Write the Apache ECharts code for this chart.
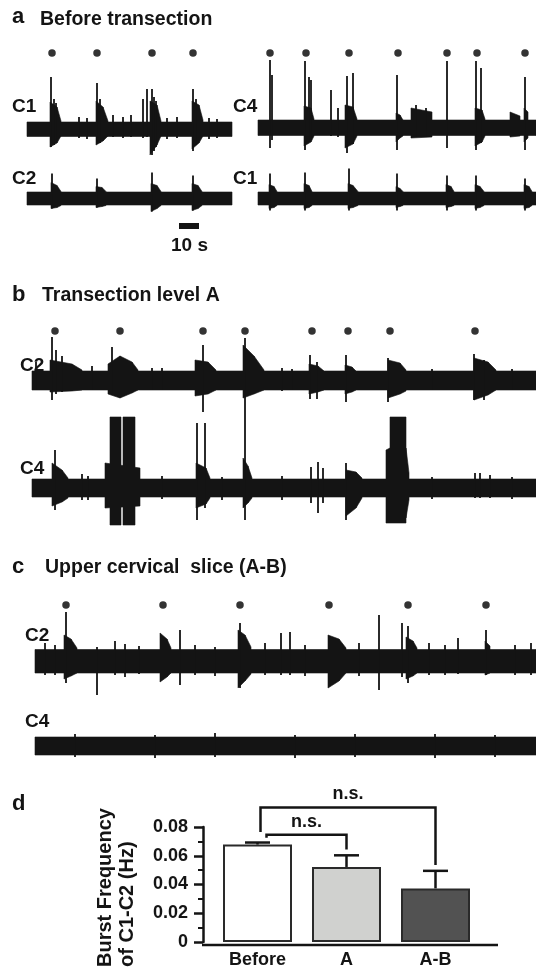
<!DOCTYPE html>
<html><head><meta charset="utf-8">
<script src="https://cdn.jsdelivr.net/npm/echarts@6/dist/echarts.min.js"></script>
<style>html,body{margin:0;padding:0;background:#fff}#c{width:536px;height:969px}</style>
</head><body><div id="c"></div>
<script>
// ---------- DATA (time in s, amplitude in trace units) ----------
// shapes: [t0, t1, up0, up1, down0, down1]; spikes: [t, up, down]
const aC1Band = [[0, 102.5, 7, 7, 7.5, 7.5]];
const aC1Bursts = [[11.5,15,27,22,18,14],[15,17,22,8,14,7],[34.5,38,28,22,16,12],[38,40.5,22,8,12,7],[61.5,65,28,24,26,16],[65,67,24,8,16,7],[82.5,86,28,24,20,14],[86,88,24,9,14,7]];
const aC1Spikes = [[12,52,18],[13.5,30,16],[14.5,26,14],[35,46,14],[36.5,30,14],[60,40,8],[62.5,40,26],[63.5,32,22],[64.5,28,18],[83,40,22],[84.5,30,16],[26,12,9],[30,11,10],[43,14,8],[48,12,9],[52,14,8],[58,30,9],[70,11,10],[75,12,9],[91,11,10],[95,10,9]];
const aC2Band = [[0, 102.5, 6.5, 6.5, 6.5, 6.5]];
const aC2Bursts = [[12,15,16,13,10,9],[15,17,13,7,9,7],[34.5,37.5,12,11,9,8],[37.5,39.5,11,7,8,7],[62,65,15,13,13,10],[65,67,13,7,10,7],[82.5,85.5,15,13,12,10],[85.5,87.5,13,7,10,7]];
const aC2Spikes = [[12.5,25,10],[35,20,9],[62.5,26,13],[83,23,12]];
const aC4Band = [[0, 139, 8, 8, 7.5, 7.5]];
const aC4Bursts = [[23,26.5,22,20,18,14],[26.5,28,20,9,14,8],[43.5,47.5,23,21,20,16],[47.5,49.5,21,9,16,8],[69,71,15,13,14,10],[71,72.5,13,8,10,8],[76.5,87,20,16,10,9],[108.5,112,20,18,18,14],[112,113.5,18,9,14,8],[126,131,16,12,9,8],[133,135,20,16,14,10]];
const aC4Spikes = [[6,68,20],[7,53,12],[23.5,67,22],[25.5,51,14],[26.5,48,10],[36.5,38,8],[40,20,9],[44.5,52,25],[47.5,55,16],[69.5,53,22],[79,23,9],[84,20,9],[94.5,67,20],[109,67,22],[111.5,60,15],[133.5,51,22]];
const aC1rBand = [[0, 139, 6.5, 6.5, 6.5, 6.5]];
const aC1rBursts = [[5.5,8,14,12,10,9],[8,9.5,12,7,9,7],[23,25.5,15,13,10,9],[25.5,27,13,7,9,7],[45,47.5,15,13,10,9],[47.5,50,13,7,9,7],[69,71,12,10,9,8],[71,72.5,10,7,8,7],[94,96.5,14,12,9,8],[96.5,98,12,7,8,7],[108.5,111,14,12,10,9],[111,113,12,7,9,7],[133,135.5,14,12,10,9],[135.5,137,12,7,9,7]];
const aC1rSpikes = [[6,25,12],[23.5,26,12],[45.5,30,12],[69.5,25,12],[94.5,23,12],[109,23,12],[133.5,20,12]];
const aDotsLeft = [12.5, 35, 62.5, 83];
const aDotsRight = [6, 24, 45.5, 70, 94.5, 109.5, 133.5];
const scaleBar = [[76, 86]]; // 10 s

const bC2Band = [[0, 252, 9, 9, 10, 10]];
const bC2Bursts = [[9,20,20,16,12,11],[20,25,16,10,11,10],[38,44,16,24,14,18],[44,50,24,18,18,13],[50,53,18,10,13,10],[81.5,88,20,18,16,14],[88,92,18,10,14,10],[105.5,111,35,24,18,14],[111,116,24,10,14,10],[138.5,143,16,14,14,12],[143,146,14,9,12,10],[156.5,160,15,13,14,12],[160,162,13,9,12,10],[178,184,20,17,18,14],[184,187,17,10,14,11],[221,228,22,18,20,15],[228,232,18,10,15,10]];
const bC2Spikes = [[10,43,20],[12,30,14],[15,24,12],[40,33,14],[85.5,35,32],[106.5,42,37],[139,25,19],[142.5,18,19],[157,25,22],[178,22,22],[221,26,20],[226,20,20],[2,18,10],[30,14,10],[60,12,10],[65,12,10],[125,12,11],[130,11,10],[200,11,10],[240,11,10]];
const bC4Band = [[0, 252, 9, 9, 9, 9]];
const bC4Bursts = [[10,15,25,18,18,14],[15,18,18,10,14,10],[36.5,54,25,20,20,18],[39,44.5,71,71,37,37],[45.5,51.5,71,71,37,37],[82,87,25,20,20,16],[87,89,20,10,16,10],[105.5,108,30,22,20,15],[108,110,22,10,15,10],[157,162,18,16,28,20],[162,165,16,10,20,10],[177,179,38,40,35,35],[179,187,71,71,35,35],[187,188.5,40,15,30,12]];
const bC4Spikes = [[11.5,38,22],[82.5,65,32],[86.5,65,20],[106.5,71,32],[139.5,21,15],[143,26,25],[145.5,20,15],[157,25,32],[221.5,15,10],[224,15,10],[229,13,10],[25,14,12],[28,12,12],[65,12,11],[95,11,12],[125,12,12],[200,11,11],[240,11,11]];
const bDots = [11.5, 44, 85.5, 106.5, 140, 158, 179, 221.5];

const cC2Band = [[0, 250.5, 11.5, 11.5, 12, 12]];
const cC2Bursts = [[14.5,18,26,22,18,15],[18,21,22,13,15,12],[62.5,66,28,22,21,16],[66,68,22,13,16,12],[101.5,105,31,26,27,20],[105,108,26,14,20,13],[146.5,152,26,22,27,20],[152,155.5,22,13,20,12],[185.5,189,24,20,18,15],[189,191,20,13,15,12],[225,227.5,20,15,14,12]];
const cC2Spikes = [[15.5,49,22],[31,14,34],[72.5,31,24],[102.5,38,27],[123,28,14],[127.5,29,14],[172,46,29],[183.5,38,16],[186.5,35,22],[211.5,23,13],[225.5,31,14],[5,18,14],[10,16,14],[40,20,14],[45,17,16],[52,15,13],[80,16,14],[90,14,15],[115,18,14],[135,16,15],[162,18,15],[197,18,14],[205,16,14],[240,16,14],[248,18,14]];
const cC4Band = [[0, 250.5, 9, 9, 9, 9]];
const cC4Spikes = [[20,12,11],[60,11,12],[90,13,11],[130,11,12],[160,12,11],[200,12,12],[230,11,11]];
const cDots = [15.5, 64, 102.5, 147, 186.5, 225.5];

const barCats = ['Before', 'A', 'A-B'];
const barMeans = [0.0678, 0.0522, 0.0373];
const barErrs = [0.0014, 0.0081, 0.0122];
const barFills = ['#ffffff', '#d0d1cf', '#525252'];
// brackets: [leftCat, rightCat, topValue, leftEndValue, rightEndValue]
const brackets = [[0, 2, 0.0936, 0.0766, 0.0536], [0, 1, 0.0746, 0.0725, 0.0644]];
const bracketLabels = ['n.s.', 'n.s.'];
const yTicks = {min: 0, max: 0.08, interval: 0.02};

// ---------- LAYOUT ----------
const INK = '#141414';
const FONT = '"Liberation Sans", Arial, Helvetica, sans-serif';
const R = 80;
const traces = [
  {left: 27, end: 232, center: 129, dur: 102.5, shapes: aC1Band.concat(aC1Bursts), spikes: aC1Spikes, dots: aDotsLeft, dotY: 76},
  {left: 27, end: 232, center: 198.5, dur: 102.5, shapes: aC2Band.concat(aC2Bursts), spikes: aC2Spikes, bar: scaleBar},
  {left: 258, end: 536, center: 128, dur: 139, shapes: aC4Band.concat(aC4Bursts), spikes: aC4Spikes, dots: aDotsRight, dotY: 75},
  {left: 258, end: 536, center: 198.5, dur: 139, shapes: aC1rBand.concat(aC1rBursts), spikes: aC1rSpikes},
  {left: 32, end: 536, center: 380, dur: 252, shapes: bC2Band.concat(bC2Bursts), spikes: bC2Spikes, dots: bDots, dotY: 49},
  {left: 32, end: 536, center: 488, dur: 252, shapes: bC4Band.concat(bC4Bursts), spikes: bC4Spikes},
  {left: 35, end: 536, center: 661, dur: 250.5, shapes: cC2Band.concat(cC2Bursts), spikes: cC2Spikes, dots: cDots, dotY: 56},
  {left: 35, end: 536, center: 746, dur: 250.5, shapes: cC4Band, spikes: cC4Spikes}
];

function shapeRender(params, api) {
  const t0 = api.value(0), t1 = api.value(1);
  const pts = [api.coord([t0, api.value(2)]), api.coord([t1, api.value(3)]),
               api.coord([t1, -api.value(5)]), api.coord([t0, -api.value(4)])];
  return {type: 'polygon', shape: {points: pts}, style: {fill: INK, stroke: INK, lineWidth: 0.6}};
}
function spikeRender(params, api) {
  const t = api.value(0);
  const a = api.coord([t, api.value(1)]), b = api.coord([t, -api.value(2)]);
  return {type: 'line', shape: {x1: a[0], y1: a[1], x2: b[0], y2: b[1]}, style: {stroke: INK, lineWidth: 1.8}};
}
function scaleBarRender(params, api) {
  const a = api.coord([api.value(0), -24.5]), b = api.coord([api.value(1), -30.5]);
  return {type: 'rect', shape: {x: a[0], y: a[1], width: b[0] - a[0], height: b[1] - a[1]}, style: {fill: INK}};
}

const grids = [], xAxes = [], yAxes = [], series = [];
traces.forEach((tr, k) => {
  grids.push({left: tr.left, width: tr.end - tr.left, top: tr.center - R, height: 2 * R});
  xAxes.push({type: 'value', gridIndex: k, min: 0, max: tr.dur, show: false});
  yAxes.push({type: 'value', gridIndex: k, min: -R, max: R, show: false});
  series.push({type: 'custom', xAxisIndex: k, yAxisIndex: k, data: tr.shapes, renderItem: shapeRender, clip: false, silent: true});
  series.push({type: 'custom', xAxisIndex: k, yAxisIndex: k, data: tr.spikes, renderItem: spikeRender, clip: false, silent: true});
  if (tr.dots) series.push({type: 'scatter', xAxisIndex: k, yAxisIndex: k, data: tr.dots.map(t => [t, tr.dotY]), symbolSize: 7.5, itemStyle: {color: '#000'}, silent: true});
  if (tr.bar) series.push({type: 'custom', xAxisIndex: k, yAxisIndex: k, data: tr.bar, renderItem: scaleBarRender, clip: false, silent: true});
});

// bar chart panel d
const kb = traces.length;
grids.push({left: 213, width: 267, top: 827, height: 118});
xAxes.push({type: 'category', gridIndex: kb, data: barCats, axisLine: {show: false}, axisTick: {show: false},
  axisLabel: {color: INK, fontWeight: 'bold', fontSize: 18, fontFamily: FONT, margin: 9}});
yAxes.push({type: 'value', gridIndex: kb, min: yTicks.min, max: yTicks.max, interval: yTicks.interval, offset: 10,
  splitLine: {show: false},
  axisLine: {show: true, lineStyle: {color: INK, width: 2.5}},
  axisTick: {show: true, length: 9, lineStyle: {color: INK, width: 2.5}},
  minorTick: {show: true, splitNumber: 2, length: 5, lineStyle: {color: INK, width: 2}},
  axisLabel: {color: INK, fontWeight: 'bold', fontSize: 18, fontFamily: FONT, margin: 15}});
series.push({type: 'bar', xAxisIndex: kb, yAxisIndex: kb, barWidth: 69,
  data: barMeans.map((v, i) => ({value: v, itemStyle: {color: barFills[i], borderColor: '#2a2a2a', borderWidth: 2}})), silent: true});
series.push({type: 'custom', xAxisIndex: kb, yAxisIndex: kb, z: 5, silent: true,
  data: barMeans.map((m, i) => [i, m, barErrs[i]]),
  renderItem: (p, api) => {
    const b = api.coord([api.value(0), api.value(1)]), t = api.coord([api.value(0), api.value(1) + api.value(2)]);
    return {type: 'group', children: [
      {type: 'line', shape: {x1: b[0], y1: b[1], x2: t[0], y2: t[1]}, style: {stroke: INK, lineWidth: 2.5}},
      {type: 'line', shape: {x1: t[0] - 12.5, y1: t[1], x2: t[0] + 12.5, y2: t[1]}, style: {stroke: INK, lineWidth: 2.5}}
    ]};
  }});
const bracketShift = [3, 9];
series.push({type: 'custom', xAxisIndex: kb, yAxisIndex: kb, z: 5, clip: false, silent: true,
  data: brackets,
  renderItem: (p, api) => {
    const i = p.dataIndex;
    const li = api.value(0), ri = api.value(1), top = api.value(2);
    const pL = api.coord([li, api.value(3)]), pT = api.coord([li, top]), pR = api.coord([ri, api.value(4)]);
    const xl = pL[0] + bracketShift[i];
    return {type: 'group', children: [
      {type: 'polyline', shape: {points: [[xl, pL[1]], [xl, pT[1]], [pR[0], pT[1]], [pR[0], pR[1]]]}, style: {stroke: INK, lineWidth: 2.5, fill: null}},
      {type: 'text', x: (xl + pR[0]) / 2, y: pT[1] - 4, style: {text: bracketLabels[i], fill: INK, fontSize: 18, fontWeight: 'bold', fontFamily: FONT, align: 'center', verticalAlign: 'bottom'}}
    ]};
  }});

function T(text, left, top, size) {
  return {text: text, left: left, top: top, padding: 0, textStyle: {color: INK, fontWeight: 'bold', fontSize: size, fontFamily: FONT}};
}
const titles = [
  T('a', 12, 6, 22), T('Before transection', 40, 10, 19.5),
  T('C1', 12, 97, 19), T('C2', 12, 169, 19), T('C4', 233, 97, 19), T('C1', 233, 169, 19),
  T('10 s', 171, 236, 19),
  T('b', 12, 284, 22), T('Transection level A', 42, 286, 19.5),
  T('C2', 20, 356, 19), T('C4', 20, 459, 19),
  T('c', 12, 556, 22), T('Upper cervical  slice (A-B)', 45, 558, 19.5),
  T('C2', 25, 626, 19), T('C4', 25, 712, 19),
  T('d', 12, 793, 22)
];

const chart = echarts.init(document.getElementById('c'), null, {renderer: 'canvas'});
chart.setOption({
  animation: false,
  title: titles,
  grid: grids, xAxis: xAxes, yAxis: yAxes, series: series,
  graphic: [
    {type: 'text', x: 105, y: 967, rotation: Math.PI / 2, style: {text: 'Burst Frequency', fill: INK, fontSize: 20, fontWeight: 'bold', fontFamily: FONT, align: 'left', verticalAlign: 'middle'}},
    {type: 'text', x: 127, y: 967, rotation: Math.PI / 2, style: {text: 'of C1-C2 (Hz)', fill: INK, fontSize: 20, fontWeight: 'bold', fontFamily: FONT, align: 'left', verticalAlign: 'middle'}},
    {type: 'line', shape: {x1: 202, y1: 945, x2: 498, y2: 945}, style: {stroke: INK, lineWidth: 2.5}}
  ]
});
</script></body></html>
